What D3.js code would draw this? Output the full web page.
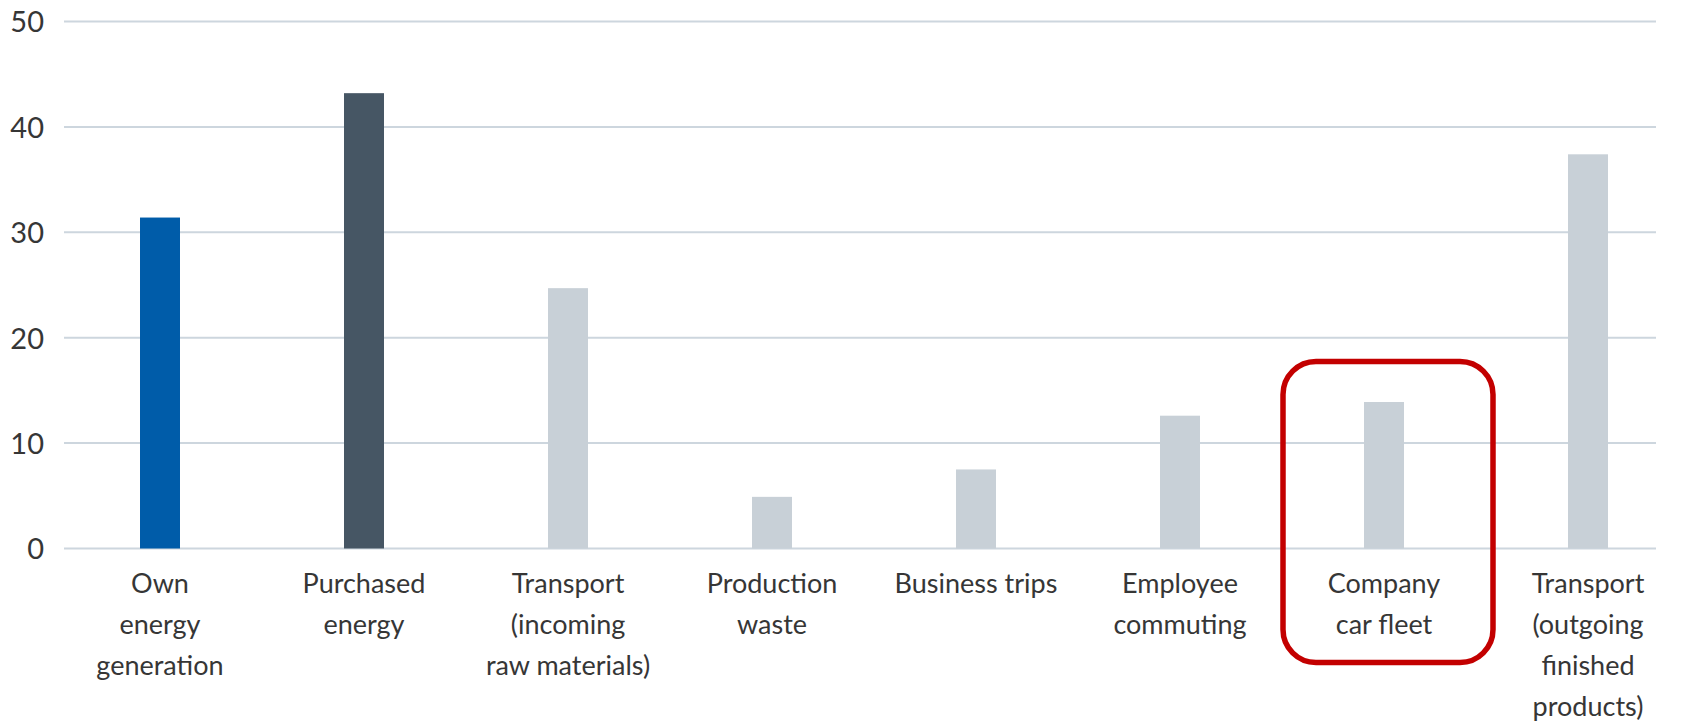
<!DOCTYPE html>
<html>
<head>
<meta charset="utf-8">
<script src="https://cdn.jsdelivr.net/npm/d3@7/dist/d3.min.js"></script>
<style>
  html, body { margin: 0; padding: 0; background: #ffffff; }
  svg { display: block; }
  text { font-family: Lato, "Noto Sans", sans-serif; fill: #363636; }
</style>
</head>
<body>
<svg id="chart" width="1686" height="724"></svg>
<script>
// Emission sources (category labels, one array entry per text line)
const categories = [
  "Own energy generation",
  "Purchased energy",
  "Transport (incoming raw materials)",
  "Production waste",
  "Business trips",
  "Employee commuting",
  "Company car fleet",
  "Transport (outgoing finished products)"
];
const labelLines = [
  ["Own", "energy", "generation"],
  ["Purchased", "energy"],
  ["Transport", "(incoming", "raw materials)"],
  ["Production", "waste"],
  ["Business trips"],
  ["Employee", "commuting"],
  ["Company", "car fleet"],
  ["Transport", "(outgoing", "finished", "products)"]
];
const values = [31.4, 43.2, 24.7, 4.9, 7.5, 12.6, 13.9, 37.4];
const barColors = ["#005ca9", "#465664", "#c8d0d7", "#c8d0d7", "#c8d0d7", "#c8d0d7", "#c8d0d7", "#c8d0d7"];
const yTicks = [0, 10, 20, 30, 40, 50];
const highlighted = "Company car fleet";

const svg = d3.select("#chart");

const y = d3.scaleLinear().domain([0, 50]).range([548.5, 21.5]);
const x = d3.scaleBand()
  .domain(categories)
  .range([58, 1690])
  .paddingInner(0.804)
  .paddingOuter(0.402);

const gridLeft = 64, gridRight = 1656;

// Horizontal gridlines and the zero line
svg.append("g")
  .selectAll("line")
  .data(yTicks)
  .join("line")
  .attr("x1", gridLeft)
  .attr("x2", gridRight)
  .attr("y1", d => y(d))
  .attr("y2", d => y(d))
  .attr("stroke", "#cdd6de")
  .attr("stroke-width", 2);

// Y axis labels
const yAxis = d3.axisLeft(y).tickValues(yTicks).tickSize(0).tickPadding(0);
const yAxisG = svg.append("g")
  .attr("transform", "translate(44,0)")
  .call(yAxis);
yAxisG.select(".domain").remove();
yAxisG.selectAll("text")
  .attr("font-size", 29)
  .attr("font-family", "Lato, 'Noto Sans', sans-serif")
  .attr("fill", "#363636")
  .attr("dy", "0.36em");

// Bars
svg.append("g")
  .selectAll("rect")
  .data(categories)
  .join("rect")
  .attr("x", d => x(d))
  .attr("width", x.bandwidth())
  .attr("y", (d, i) => y(values[i]))
  .attr("height", (d, i) => y(0) - y(values[i]))
  .attr("fill", (d, i) => barColors[i]);

// Category labels under the bars
const lineHeight = 41;
const labels = svg.append("g")
  .selectAll("text")
  .data(categories)
  .join("text")
  .attr("text-anchor", "middle")
  .attr("font-size", 27)
  .attr("x", d => x(d) + x.bandwidth() / 2)
  .attr("y", 593);
labels.selectAll("tspan")
  .data((d, i) => labelLines[i].map(t => ({ t, cx: x(d) + x.bandwidth() / 2 })))
  .join("tspan")
  .attr("x", d => d.cx)
  .attr("dy", (d, i) => i === 0 ? 0 : lineHeight)
  .text(d => d.t);

// Rounded highlight frame around the company car fleet column
const cx = x(highlighted) + x.bandwidth() / 2 + 4;
const frameW = 210;
svg.append("rect")
  .attr("x", cx - frameW / 2)
  .attr("y", 361.5)
  .attr("width", frameW)
  .attr("height", 301)
  .attr("rx", 33)
  .attr("ry", 33)
  .attr("fill", "none")
  .attr("stroke", "#c30000")
  .attr("stroke-width", 5.5);
</script>
</body>
</html>
